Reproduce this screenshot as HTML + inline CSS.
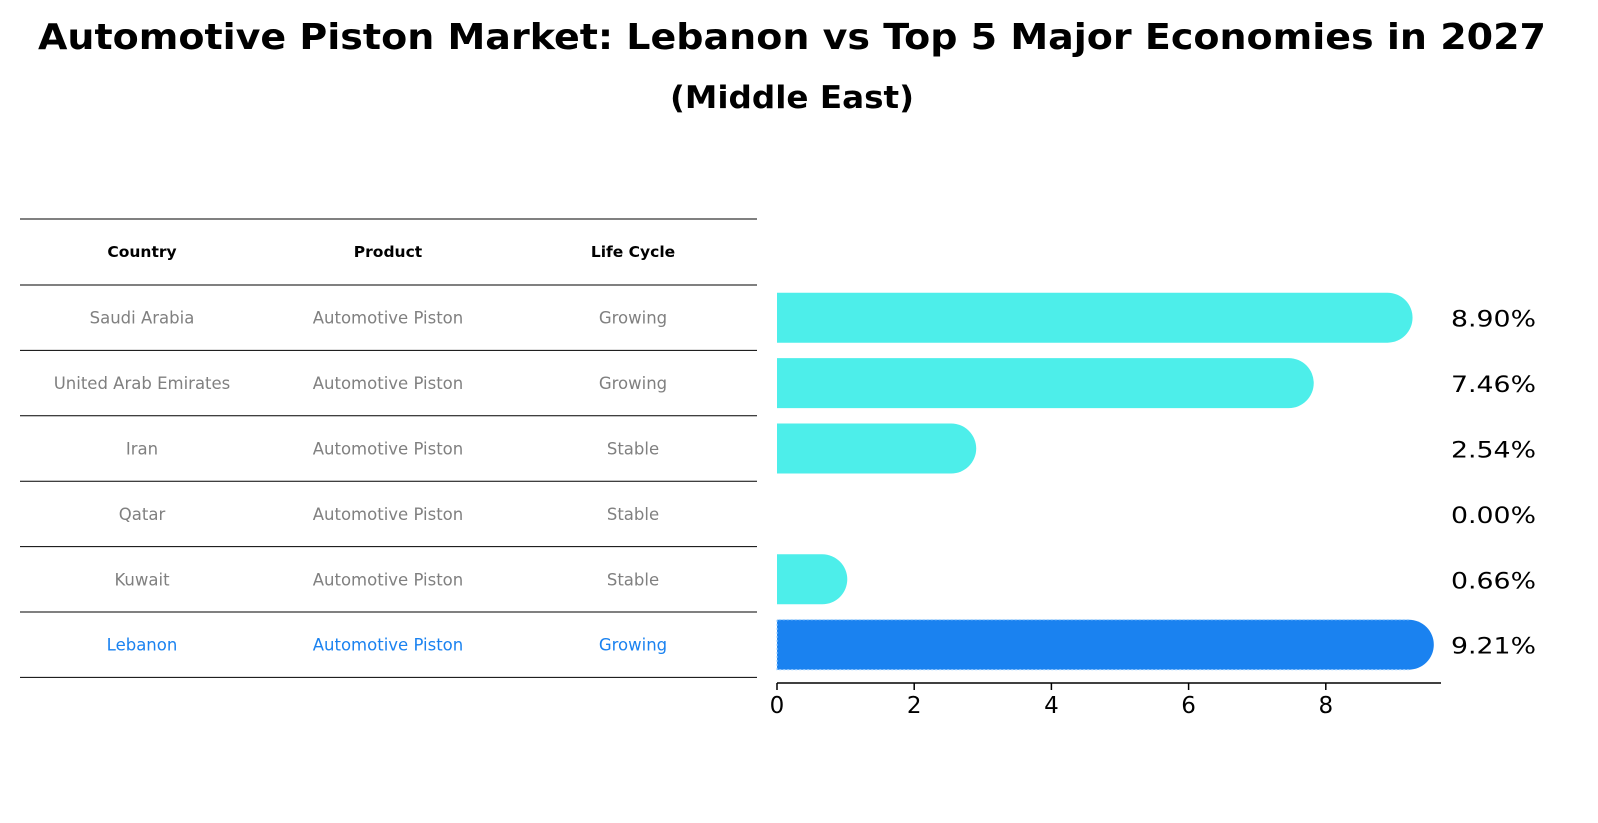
<!DOCTYPE html>
<html><head><meta charset="utf-8"><style>
body{margin:0;background:#fff;font-family:"DejaVu Sans","Liberation Sans",sans-serif;}
#wrap{position:relative;width:1598px;height:823px;overflow:hidden;}
</style></head><body>
<div id="wrap">
<svg id="svg" width="1598" height="823" xmlns="http://www.w3.org/2000/svg">
<text x="792" y="49" text-anchor="middle" font-size="36" font-weight="bold" textLength="1508" lengthAdjust="spacingAndGlyphs" font-family="DejaVu Sans, Liberation Sans, sans-serif">Automotive Piston Market: Lebanon vs Top 5 Major Economies in 2027</text>
<text x="792" y="108" text-anchor="middle" font-size="31" font-weight="bold" textLength="244" lengthAdjust="spacingAndGlyphs" font-family="DejaVu Sans, Liberation Sans, sans-serif">(Middle East)</text>
<g id="table"></g>
<g id="bars"></g>
<g id="axis"></g>
</svg>
</div>
<script>
const countries=["Saudi Arabia","United Arab Emirates","Iran","Qatar","Kuwait","Lebanon"];
const products=["Automotive Piston","Automotive Piston","Automotive Piston","Automotive Piston","Automotive Piston","Automotive Piston"];
const lifeCycles=["Growing","Growing","Stable","Stable","Stable","Growing"];
const values=[8.90,7.46,2.54,0.00,0.66,9.21];
const ticks=[0,2,4,6,8];
const NS="http://www.w3.org/2000/svg";
const x0=777, pxPer=68.6, rowTop=285, rowH=65.4, barH=50;
function xs(v){return x0+v*pxPer;}
function yc(i){return rowTop+rowH*i+rowH/2;}
function mk(tag,attrs,parent){const e=document.createElementNS(NS,tag);for(const k in attrs)e.setAttribute(k,attrs[k]);parent.appendChild(e);return e;}
const font="DejaVu Sans, Liberation Sans, sans-serif";
const tbl=document.getElementById('table');
const cols=[142,388,633];
const hdr=["Country","Product","Life Cycle"];
for(let r=0;r<=countries.length+1;r++){
  const y=r===0?219:rowTop+rowH*(r-1);
  const l=mk('line',{x1:20,x2:757,y1:y,y2:y,stroke:'#000','stroke-width':1},tbl);
  
  
}
hdr.forEach((h,j)=>{
  const t=mk('text',{x:cols[j],y:257,'text-anchor':'middle','font-size':15.5,'font-weight':'bold','font-family':font},tbl);
  t.textContent=h;
  
  
});
countries.forEach((c,i)=>{
  const col=c==="Lebanon"?'#1a82f0':'#808080';
  [c,products[i],lifeCycles[i]].forEach((txt,j)=>{
    const t=mk('text',{x:cols[j],y:yc(i)+6,'text-anchor':'middle','font-size':16.5,fill:col,'font-family':font},tbl);
    t.textContent=txt;
    
    
  });
});
const bars=document.getElementById('bars');
values.forEach((v,i)=>{
  const isL=countries[i]==="Lebanon";
  const col=isL?'#1a82f0':'#4deeea';
  const y=yc(i)-barH/2;
  if(v>0){
    const xe=xs(v), rr=barH/2;
    const d=`M${x0},${y} L${xe},${y} A${rr},${rr} 0 0 1 ${xe},${y+barH} L${x0},${y+barH} Z`;
    const p=mk('path',{d:d,fill:col},bars);
    
    
    if(isL){
      const o=mk('path',{d:`M${xe},${y} L${x0},${y} L${x0},${y+barH} L${xe},${y+barH}`,fill:'none',stroke:'#9fd0ff','stroke-width':1.2,'stroke-dasharray':'2,2'},bars);
      
      
    }
  }
  const t=mk('text',{x:1451,y:yc(i)+9,'font-size':22,'textLength':85,'lengthAdjust':'spacingAndGlyphs','font-family':font},bars);
  t.textContent=v.toFixed(2)+'%';
  
  
});
const ax=document.getElementById('axis');
const al=mk('line',{x1:x0,x2:1441,y1:683,y2:683,stroke:'#000','stroke-width':1.5},ax);


ticks.forEach(tv=>{
  const l=mk('line',{x1:xs(tv),x2:xs(tv),y1:683,y2:690,stroke:'#000','stroke-width':1.5},ax);
  
  
  const t=mk('text',{x:xs(tv),y:713,'text-anchor':'middle','font-size':23,'font-family':font},ax);
  t.textContent=tv;
  
  
});
</script>
</body></html>
